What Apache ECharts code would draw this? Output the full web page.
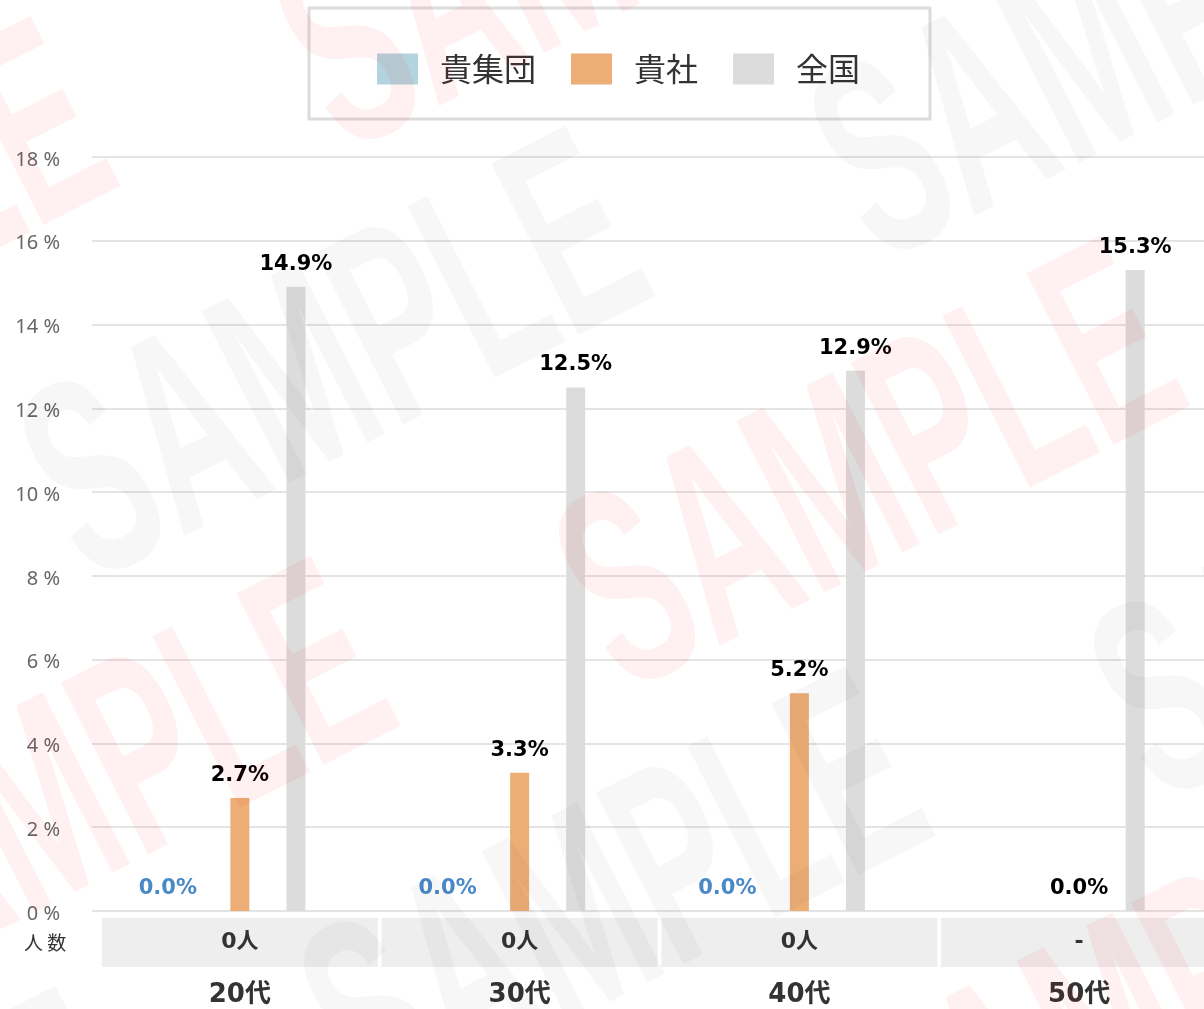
<!DOCTYPE html>
<html>
<head>
<meta charset="utf-8">
<script src="https://cdn.jsdelivr.net/npm/echarts@6/dist/echarts.min.js"></script>
<style>
  html, body { margin: 0; padding: 0; background: #fff; overflow: hidden; }
  /* the plot runs a little past the right edge of the window, as in the original */
  #chart { width: 1220px; height: 1009px; }
</style>
</head>
<body>
<div id="chart"></div>
<script>
const categories = ['20代', '30代', '40代', '50代']
const headcounts = ['0人', '0人', '0人', '-']
const groupValues = [0.0, 0.0, 0.0, null]     // 貴集団
const companyValues = [2.7, 3.3, 5.2, 0.0]    // 貴社
const nationalValues = [14.9, 12.5, 12.9, 15.3] // 全国

const numFont = 'DejaVu Sans, Noto Sans CJK JP, sans-serif'
const jpFont = 'Noto Sans CJK JP, sans-serif'

const pct = p => p.value == null ? '' : p.value.toFixed(1) + '%'

// faint "SAMPLE" watermark, tiled diagonally
const watermarks = []
for (let i = -2; i <= 3; i++) {
  for (let j = -2; j <= 2; j++) {
    const x = 340 + i * 535 - j * 255
    const y = 370 + i * 110 + j * 430
    if (x < -600 || x > 1800 || y < -300 || y > 1300) continue
    const red = Math.abs(i + j) % 2 === 1
    watermarks.push({
      type: 'text',
      x: x,
      y: y,
      rotation: 27 * Math.PI / 180,
      scaleX: 0.55,
      silent: true,
      z: 100,
      style: {
        text: 'SAMPLE',
        font: 'bold 280px Liberation Sans, sans-serif',
        fill: red ? 'rgba(255,0,0,0.055)' : 'rgba(0,0,0,0.03)',
        align: 'center',
        verticalAlign: 'middle'
      }
    })
  }
}

const chart = echarts.init(document.getElementById('chart'), null, { renderer: 'canvas' })

const labelStyle = {
  show: true,
  position: 'top',
  distance: 12,
  formatter: pct,
  fontFamily: numFont,
  fontWeight: 'bold',
  fontSize: 21,
  color: '#000'
}

const option = {
  backgroundColor: '#fff',
  animation: false,
  legend: {
    left: 309,
    top: 8,
    padding: [45, 70, 34, 68],
    borderColor: '#dcdcdc',
    borderWidth: 3,
    itemWidth: 41,
    itemHeight: 31,
    itemGap: 35,
    icon: 'rect',
    textStyle: {
      fontFamily: jpFont,
      fontSize: 32,
      color: '#333',
      padding: [0, 0, 0, 17]
    },
    data: ['貴集団', '貴社', '全国']
  },
  grid: {
    left: 100,
    top: 157,
    right: 0,
    bottom: 98,
    containLabel: false
  },
  xAxis: {
    type: 'category',
    data: categories,
    axisLine: { show: false },
    axisTick: { show: false },
    axisLabel: {
      interval: 0,
      margin: 7,
      formatter: (value, idx) => `{box|${headcounts[idx]}}\n{cat|${value}}`,
      rich: {
        box: {
          width: 276,
          height: 49,
          lineHeight: 49,
          align: 'center',
          backgroundColor: '#eeeeee',
          fontFamily: numFont,
          fontWeight: 'bold',
          fontSize: 22,
          color: '#333'
        },
        cat: {
          lineHeight: 56,
          align: 'center',
          fontFamily: numFont,
          fontWeight: 'bold',
          fontSize: 26,
          color: '#333'
        }
      }
    }
  },
  yAxis: {
    type: 'value',
    min: 0,
    max: 18,
    interval: 2,
    axisLine: { show: false },
    axisTick: { show: true, length: 8, lineStyle: { color: '#e4e4e4', width: 2 } },
    splitLine: { lineStyle: { color: '#e4e4e4', width: 2 } },
    axisLabel: {
      margin: 40,
      formatter: '{v|{value} %}',
      rich: {
        v: {
          padding: [6, 0, 0, 0],
          fontFamily: 'Noto Sans, sans-serif',
          fontSize: 20,
          color: '#666'
        }
      }
    }
  },
  series: [
    {
      name: '貴集団',
      type: 'bar',
      data: groupValues,
      barWidth: 19,
      barGap: '195%',
      itemStyle: { color: '#b3d3df' },
      label: Object.assign({}, labelStyle, { offset: [-16, 0], color: '#4a89c8' })
    },
    {
      name: '貴社',
      type: 'bar',
      data: companyValues,
      barWidth: 19,
      barGap: '195%',
      itemStyle: { color: '#edae76' },
      label: labelStyle
    },
    {
      name: '全国',
      type: 'bar',
      data: nationalValues,
      barWidth: 19,
      barGap: '195%',
      itemStyle: { color: '#dcdcdc' },
      label: labelStyle
    }
  ],
  graphic: [
    {
      type: 'text',
      left: 24,
      top: 933,
      silent: true,
      style: {
        text: '人 数',
        font: '19px Noto Sans CJK JP, sans-serif',
        fill: '#333'
      }
    }
  ].concat(watermarks)
}

chart.setOption(option)
</script>
</body>
</html>
